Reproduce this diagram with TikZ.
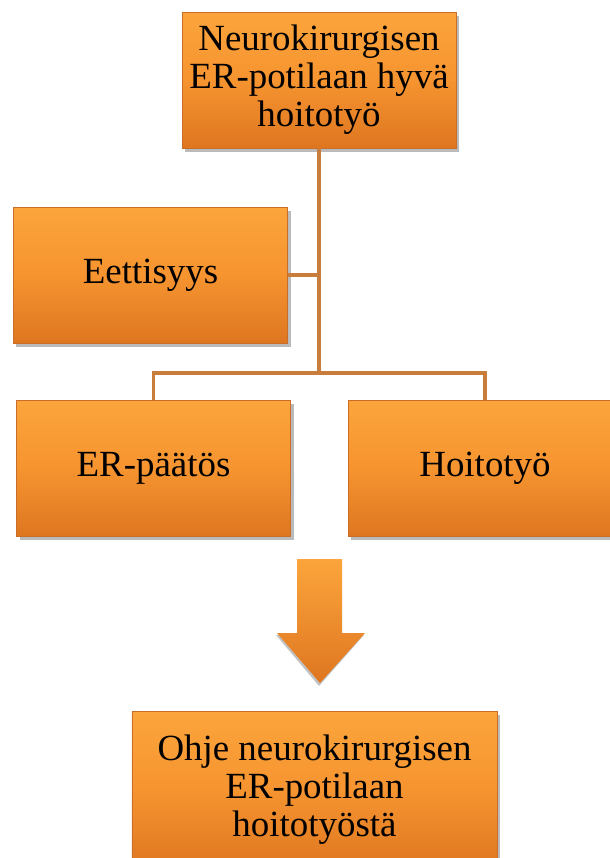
\documentclass[tikz,border=0pt]{standalone}
\usepackage{fontspec}
\setmainfont{Liberation Serif}
\usepackage{tikz}
\tikzset{>=stealth}
\usetikzlibrary{positioning, shadows}

\definecolor{boxtop}{RGB}{252,165,60}
\definecolor{boxmid}{RGB}{246,148,48}
\definecolor{boxbot}{RGB}{222,118,32}
\definecolor{boxedge}{RGB}{200,110,40}
\definecolor{linkcol}{RGB}{200,125,60}

\tikzset{
    stepbox/.style={rectangle, minimum width=5.48cm, minimum height=2.72cm,
        top color=boxtop, bottom color=boxbot, middle color=boxmid,
        draw=boxedge, line width=0.4pt, align=center,
        font=\fontsize{21}{21.6}\selectfont,
        drop shadow={shadow xshift=0.06cm, shadow yshift=-0.08cm, fill=black!45, opacity=0.6}},
    link/.style={draw=linkcol, line width=2.2pt}
}

\begin{document}
\begin{tikzpicture}
            \useasboundingbox (0,0) rectangle (12.2,-17.16);
            \node[stepbox] (goal) at (6.38,-1.6) {Neurokirurgisen\\ER-potilaan hyvä\\hoitotyö};
            \node[stepbox] (ethics) at (3.01,-5.5) {Eettisyys};
            \node[stepbox] (decision) at (3.07,-9.36) {ER-päätös};
            \node[stepbox] (nursing) at (9.7,-9.36) {Hoitotyö};
            \node[stepbox, minimum width=7.3cm, minimum height=3.16cm] (guide) at (6.29,-15.8) {Ohje neurokirurgisen\\ER-potilaan\\hoitotyöstä};
            \coordinate (split) at (goal.south |- 0,-7.46);
            \draw[link] (goal.south) -- (split);
            \draw[link] (ethics.east) -- (ethics.east -| goal.south);
            \draw[link] (split) -| (decision.north);
            \draw[link] (split) -| (nursing.north);
            % block arrow
            \fill[black!40, opacity=0.6] (5.52,-12.70) -- (7.28,-12.70) -- (6.38,-13.72) -- cycle;
            \shade[top color=boxtop, bottom color=boxbot] (5.94,-11.18) -- (6.84,-11.18) -- (6.84,-12.66)
                -- (7.30,-12.66) -- (6.40,-13.66) -- (5.54,-12.66) -- (5.94,-12.66) -- cycle;
        \end{tikzpicture}
\end{document}
